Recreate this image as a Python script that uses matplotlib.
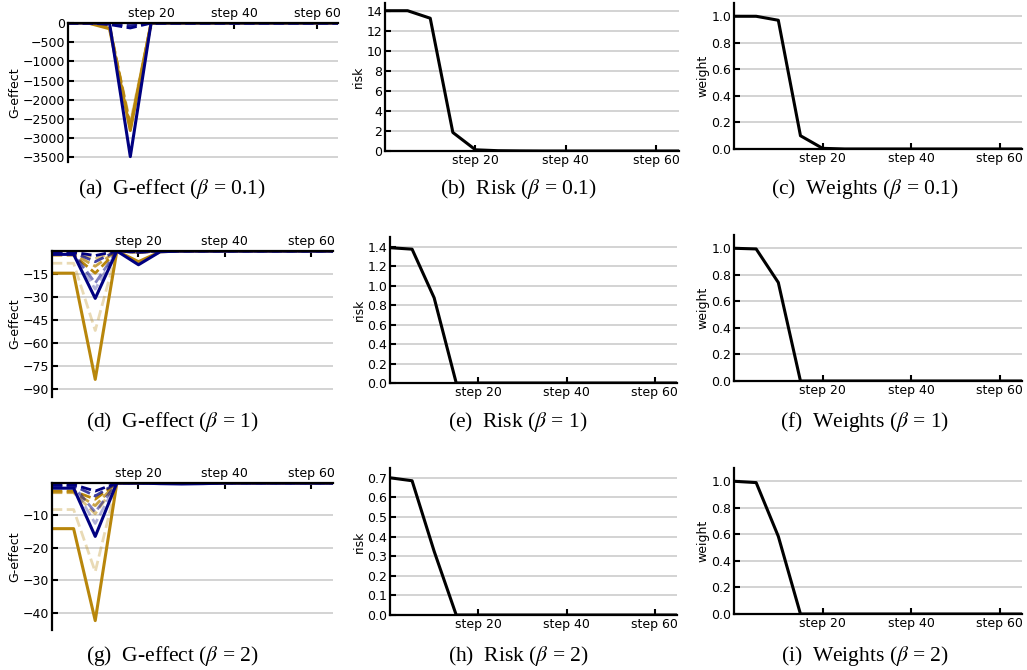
import matplotlib
matplotlib.use("Agg")
import matplotlib.pyplot as plt

plt.rcParams['font.family'] = 'DejaVu Sans'
plt.rcParams['mathtext.fontset'] = 'stix'

# training steps (one point every 5 steps)
steps = [0, 5, 10, 15, 20, 25, 30, 35, 40, 45, 50, 55, 60, 65]

# ---- G-effect, beta = 0.1
g01_orange = [-2, -5, -150, -2800, -3, 0, 0, 0, 0, 0, 0, 0, 0, 0]
g01_orange_dash = [
    [0, -2, -60, -2750, -2, 0, 0, 0, 0, 0, 0, 0, 0, 0],
    [0, -2, -90, -2700, -2, 0, 0, 0, 0, 0, 0, 0, 0, 0],
    [0, -3, -120, -2650, -2, 0, 0, 0, 0, 0, 0, 0, 0, 0],
    [0, -4, -130, -2600, -2, 0, 0, 0, 0, 0, 0, 0, 0, 0],
]
g01_navy = [0, 0, -10, -3480, 0, 0, 0, 0, 0, 0, 0, 0, 0, 0]
g01_navy_dash = [
    [0, 0, -40, -130, -3, 0, 0, 0, 0, 0, 0, 0, 0, 0],
    [0, 0, -20, -80, -2, 0, 0, 0, 0, 0, 0, 0, 0, 0],
    [0, 0, -10, -50, -1, 0, 0, 0, 0, 0, 0, 0, 0, 0],
    [0, 0, -5, -30, -1, 0, 0, 0, 0, 0, 0, 0, 0, 0],
]

# ---- G-effect, beta = 1
g1_orange = [-14.5, -14.5, -84, 0, -7, -0.5, 0, 0, 0, 0, 0, 0, 0, 0]
g1_orange_dash = [
    [-2.7, -2.7, -14.5, 0, -1, 0, 0, 0, 0, 0, 0, 0, 0, 0],
    [-2, -2, -10, 0, -0.8, 0, 0, 0, 0, 0, 0, 0, 0, 0],
    [-1, -1, -5, 0, -0.5, 0, 0, 0, 0, 0, 0, 0, 0, 0],
    [-8, -8, -52, 0, -0.5, 0, 0, 0, 0, 0, 0, 0, 0, 0],
]
g1_navy = [-2.2, -2.2, -31, 0, -9, -0.5, 0, 0, 0, 0, 0, 0, 0, 0]
g1_navy_dash = [
    [-0.8, -0.8, -3, 0, -0.5, 0, 0, 0, 0, 0, 0, 0, 0, 0],
    [-1, -1, -7, 0, -0.8, 0, 0, 0, 0, 0, 0, 0, 0, 0],
    [-1.5, -1.5, -21, 0, -1, 0, 0, 0, 0, 0, 0, 0, 0, 0],
    [-1.5, -1.5, -25, 0, -1, 0, 0, 0, 0, 0, 0, 0, 0, 0],
]

# ---- G-effect, beta = 2
g2_orange = [-14.1, -14.1, -42.5, 0, 0, 0, 0, 0, 0, 0, 0, 0, 0, 0]
g2_orange_dash = [
    [-2.5, -2.5, -5, 0, 0, 0, 0, 0, 0, 0, 0, 0, 0, 0],
    [-2.8, -2.8, -7, 0, 0, 0, 0, 0, 0, 0, 0, 0, 0, 0],
    [-3, -3, -9.5, 0, 0, 0, 0, 0, 0, 0, 0, 0, 0, 0],
    [-8.2, -8.2, -27.4, 0, 0, 0, 0, 0, 0, 0, 0, 0, 0, 0],
]
g2_navy = [-1.6, -1.6, -16.5, 0, 0, -0.2, -0.3, -0.2, 0, 0, 0, 0, 0, 0]
g2_navy_dash = [
    [-0.5, -0.5, -2.5, 0, 0, 0, 0, 0, 0, 0, 0, 0, 0, 0],
    [-0.8, -0.8, -4, 0, 0, 0, 0, 0, 0, 0, 0, 0, 0, 0],
    [-1, -1, -9, 0, 0, 0, 0, 0, 0, 0, 0, 0, 0, 0],
    [-1.2, -1.2, -12.5, 0, 0, 0, 0, 0, 0, 0, 0, 0, 0, 0],
]

# ---- risk
risk01 = [14.0, 14.0, 13.25, 1.85, 0.12, 0.03, 0.01, 0, 0, 0, 0, 0, 0, 0]
risk1 = [1.39, 1.375, 0.875, 0.0, 0, 0, 0, 0, 0, 0, 0, 0, 0, 0]
risk2 = [0.70, 0.685, 0.325, 0.0, 0, 0, 0, 0, 0, 0, 0, 0, 0, 0]

# ---- weights
w01 = [1.0, 1.0, 0.97, 0.1, 0.005, 0, 0, 0, 0, 0, 0, 0, 0, 0]
w1 = [1.0, 0.995, 0.742, 0.0, 0, 0, 0, 0, 0, 0, 0, 0, 0, 0]
w2 = [1.0, 0.99, 0.585, 0.0, 0, 0, 0, 0, 0, 0, 0, 0, 0, 0]

xtick_pos = [20, 40, 60]
xtick_lab = ['step 20', 'step 40', 'step 60']

ORANGE = '#B8860B'
NAVY = '#000080'
dash_alpha = [1.0, 0.75, 0.5, 0.3]

W, H = 1027, 670
fig = plt.figure(figsize=(W / 100, H / 100), dpi=100)


def box(l, r, t, b):
    return [l / W, 1 - b / H, (r - l) / W, (b - t) / H]


def style_common(ax):
    ax.spines['right'].set_visible(False)
    for s in ['left', 'top', 'bottom']:
        ax.spines[s].set_linewidth(1.6)
    ax.yaxis.grid(True, color='#cccccc', lw=1.2)
    ax.set_axisbelow(True)
    ax.tick_params(direction='in', length=4, width=1.5, labelsize=9, pad=2)
    ax.set_xlim(0, 65)
    ax.set_xticks(xtick_pos)
    ax.set_xticklabels(xtick_lab)


def geffect(rect, orange, orange_dash, navy, navy_dash, ylim, yticks):
    ax = fig.add_axes(rect)
    style_common(ax)
    ax.spines['bottom'].set_visible(False)
    ax.xaxis.tick_top()
    for vals, a in zip(orange_dash[::-1], dash_alpha[::-1]):
        ax.plot(steps, vals, color=ORANGE, alpha=a, lw=2, ls='--')
    ax.plot(steps, orange, color=ORANGE, lw=2.2)
    for vals, a in zip(navy_dash[::-1], dash_alpha[::-1]):
        ax.plot(steps, vals, color=NAVY, alpha=a, lw=2, ls='--')
    ax.plot(steps, navy, color=NAVY, lw=2.2)
    ax.set_ylim(*ylim)
    ax.set_yticks(yticks)
    ax.set_ylabel('G-effect', fontsize=9, labelpad=1)
    return ax


def curve(rect, vals, ylim, ystep, ylabel):
    ax = fig.add_axes(rect)
    style_common(ax)
    ax.spines['top'].set_visible(False)
    ax.plot(steps, vals, color='black', lw=2.2)
    ax.set_ylim(*ylim)
    ax.yaxis.set_major_locator(plt.MultipleLocator(ystep))
    ax.set_ylabel(ylabel, fontsize=9, labelpad=1)
    return ax


# row 1
geffect(box(68, 338, 23, 162), g01_orange, g01_orange_dash, g01_navy, g01_navy_dash,
        (-3620, 0), list(range(-3500, 1, 500)))
curve(box(385, 679, 3, 151), risk01, (0, 14.77), 2, 'risk')
curve(box(734, 1022, 3, 149), w01, (0, 1.1), 0.2, 'weight')

# row 2
geffect(box(52, 333, 251, 397), g1_orange, g1_orange_dash, g1_navy, g1_navy_dash,
        (-95.5, 0), [-90, -75, -60, -45, -30, -15])
curve(box(390, 677, 237, 383), risk1, (0, 1.5), 0.2, 'risk')
curve(box(734, 1022, 235, 381), w1, (0, 1.1), 0.2, 'weight')

# row 3
geffect(box(52, 333, 483, 630), g2_orange, g2_orange_dash, g2_navy, g2_navy_dash,
        (-45.4, 0), [-40, -30, -20, -10])
curve(box(390, 677, 468, 615), risk2, (0, 0.75), 0.1, 'risk')
curve(box(734, 1022, 468, 614), w2, (0, 1.1), 0.2, 'weight')

captions = [
    ['(a)  G-effect ($\\beta$ = 0.1)', '(b)  Risk ($\\beta$ = 0.1)', '(c)  Weights ($\\beta$ = 0.1)'],
    ['(d)  G-effect ($\\beta$ = 1)', '(e)  Risk ($\\beta$ = 1)', '(f)  Weights ($\\beta$ = 1)'],
    ['(g)  G-effect ($\\beta$ = 2)', '(h)  Risk ($\\beta$ = 2)', '(i)  Weights ($\\beta$ = 2)'],
]
cap_x = [172, 518, 865]
cap_y = [189, 422, 656]
for row, yy in zip(captions, cap_y):
    for txt, xx in zip(row, cap_x):
        fig.text(xx / W, 1 - yy / H, txt, ha='center', va='center',
                 fontsize=15.5, family='Liberation Serif')

fig.savefig('out.png', dpi=100)
